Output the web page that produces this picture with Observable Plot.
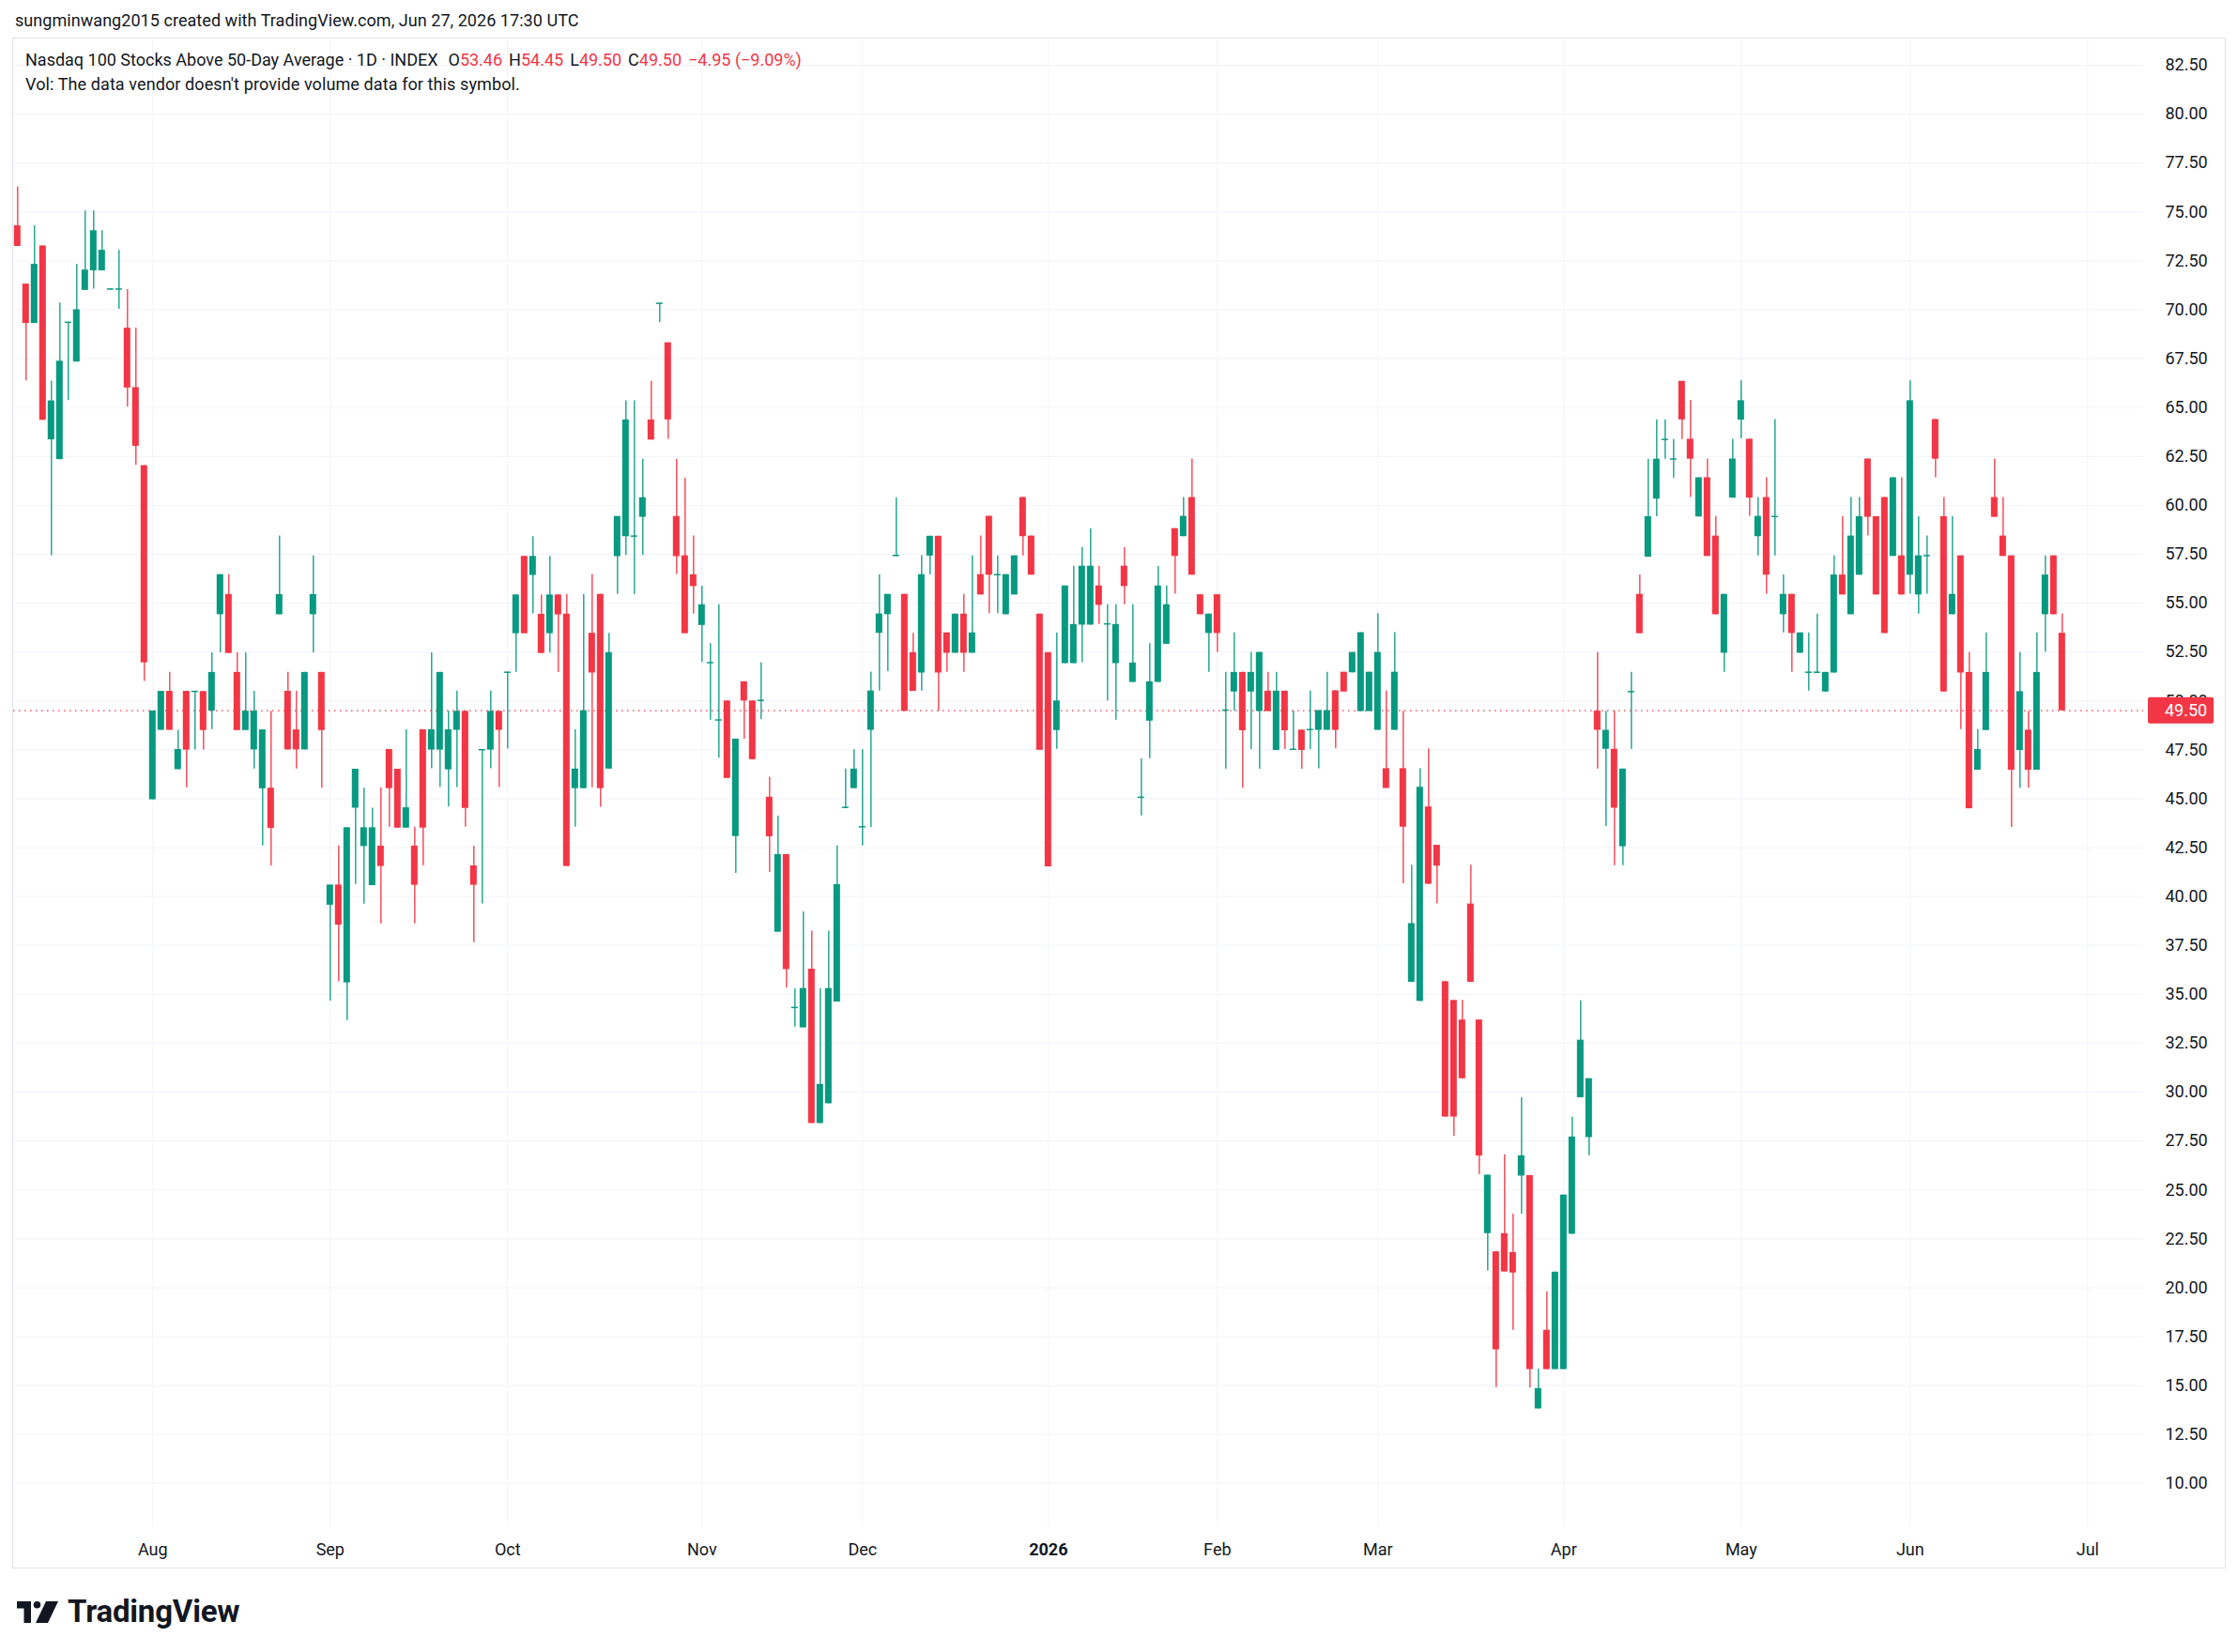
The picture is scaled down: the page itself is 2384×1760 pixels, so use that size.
<!DOCTYPE html>
<html>
<head>
<meta charset="utf-8">
<script src="https://cdn.jsdelivr.net/npm/d3@7"></script>
<script src="https://cdn.jsdelivr.net/npm/@observablehq/plot@0.6"></script>
<style>
html, body { margin: 0; padding: 0; background: #ffffff; }
body { width: 2384px; height: 1760px; position: relative; overflow: hidden;
       font-family: Roboto, "Noto Sans", sans-serif; color: #131722; }
#title { position: absolute; left: 16px; top: 9px; font-size: 18px; line-height: 26px; white-space: nowrap; letter-spacing: 0.05px; }
#pane { position: absolute; left: 13px; top: 40px; width: 2356px; height: 1629px; border: 1px solid #e0e3eb; }
#pane svg { display: block; }
.leg { position: absolute; left: 27px; font-size: 18px; line-height: 26px; white-space: nowrap; }
#leg1 { top: 51px; letter-spacing: 0px; }
#leg2 { top: 77px; letter-spacing: 0.1px; }
.red { color: #f23645; }
.gap2 { margin-left: 11px; }
.gap1 { margin-left: 7px; }
#logo { position: absolute; left: 18px; top: 1698px; display: flex; align-items: center; gap: 10px; }
#logo span { font-size: 33px; font-weight: 700; letter-spacing: -0.2px; color: #131722; line-height: 38px; }
</style>
</head>
<body>
<div id="title">sungminwang2015 created with TradingView.com, Jun 27, 2026 17:30 UTC</div>
<div id="pane"></div>
<div id="leg1" class="leg">Nasdaq 100 Stocks Above 50-Day Average · 1D · INDEX<span class="gap2">O</span><span class="red">53.46</span><span class="gap1">H</span><span class="red">54.45</span><span class="gap1">L</span><span class="red">49.50</span><span class="gap1">C</span><span class="red">49.50</span><span class="red gap1">−4.95 (−9.09%)</span></div>
<div id="leg2" class="leg">Vol: The data vendor doesn't provide volume data for this symbol.</div>
<div id="logo">
  <svg width="44" height="23" viewBox="0 0 44 23">
    <path d="M0 0 H15 V23 H7.5 V7.5 H0 Z" fill="#131722"/>
    <circle cx="21.5" cy="3.8" r="3.8" fill="#131722"/>
    <polygon points="31,0 44,0 33,23 20,23" fill="#131722"/>
  </svg>
  <span>TradingView</span>
</div>
<script>
// ---- data (daily candles, Jul 10 2025 – Jun 26 2026) ----
const opens = [
74.29,71.31,69.30,73.26,63.35,62.34,69.30,67.33,70.99,71.99,
71.99,71.00,71.00,69.06,66.02,62.03,44.95,48.50,50.49,46.49,
50.49,50.43,50.48,49.48,54.41,55.44,51.46,48.49,47.50,45.51,
45.54,54.41,50.49,48.52,47.50,54.41,51.46,39.56,40.59,35.59,
44.52,42.56,40.56,42.58,47.52,46.51,43.50,42.58,48.53,47.49,
47.49,46.48,48.50,49.47,41.57,47.45,47.49,49.47,51.41,53.44,
57.39,56.42,54.43,53.44,55.42,54.44,45.52,45.52,53.46,55.45,
46.52,57.38,58.40,58.37,59.39,64.37,70.27,68.31,59.43,57.42,
56.45,53.86,51.90,48.97,50.00,43.07,50.98,50.00,49.97,45.08,
38.18,42.15,34.27,33.29,36.29,28.40,29.41,34.61,44.50,45.52,
43.51,48.50,53.46,54.41,57.38,55.45,52.47,51.43,57.41,58.42,
53.48,52.44,54.44,52.44,56.46,59.44,56.40,54.41,55.42,60.40,
58.43,54.44,52.47,48.49,51.91,51.91,53.88,53.88,55.88,53.88,
51.91,56.89,50.95,45.02,48.97,50.95,52.90,58.81,58.40,60.40,
55.43,53.45,55.43,49.47,50.46,51.46,50.46,49.46,50.50,47.47,
50.50,47.47,48.51,48.48,48.50,48.50,50.52,51.47,51.44,49.46,
49.46,48.50,46.54,48.50,46.54,35.62,34.64,44.58,42.62,35.65,
34.69,33.69,39.62,33.69,22.77,21.84,22.77,21.80,25.71,25.74,
13.81,17.83,15.82,15.82,22.74,29.72,27.68,49.48,47.53,47.53,
42.55,50.42,55.45,57.35,60.32,63.31,62.31,66.34,63.38,59.41,
61.41,58.43,52.44,60.37,64.36,63.38,58.40,60.40,59.37,54.41,
55.45,52.44,51.41,51.41,50.46,51.43,56.44,54.41,56.43,62.37,
59.42,60.40,57.39,57.42,56.43,55.42,57.37,64.39,59.42,54.41,
57.42,51.46,46.46,48.49,60.40,58.43,57.42,47.47,48.51,46.46,
54.41,57.42,53.46];
const highs = [
76.28,71.31,74.29,73.26,66.35,70.35,69.36,72.32,75.05,75.05,
74.04,71.05,73.04,71.03,69.06,62.03,49.49,50.49,51.46,48.50,
50.49,50.49,50.48,52.46,56.46,56.46,52.46,52.46,50.49,48.52,
49.48,58.43,51.46,50.49,51.46,57.41,51.46,40.59,42.59,43.52,
46.51,45.54,44.52,45.55,47.52,46.51,48.53,43.55,48.53,52.46,
51.46,49.47,50.50,49.47,42.58,47.50,50.50,49.47,51.46,55.42,
57.39,58.40,55.42,57.39,55.42,55.45,48.53,55.45,56.47,55.45,
53.46,59.43,65.35,65.35,62.36,66.34,70.32,68.31,62.36,61.39,
58.44,55.87,52.93,54.92,50.00,48.05,50.98,50.00,51.94,46.10,
44.11,42.15,35.30,39.22,38.23,35.30,38.23,42.59,46.52,47.51,
47.51,51.48,56.46,55.45,60.38,55.45,53.46,57.43,58.42,58.42,
53.48,54.44,55.45,57.42,58.43,59.44,57.42,56.46,57.42,60.40,
58.43,54.44,52.47,53.48,55.88,56.89,57.85,58.81,56.89,54.92,
54.92,57.85,54.92,47.04,52.93,56.88,55.88,58.81,60.40,62.37,
55.43,54.44,55.43,51.46,53.48,51.46,52.48,52.48,51.46,51.46,
50.50,49.49,48.51,50.50,49.51,51.47,50.52,51.47,52.48,53.49,
51.47,54.47,50.52,53.49,49.48,41.61,46.54,47.55,42.62,35.65,
34.69,34.69,41.61,33.69,25.76,21.84,26.80,23.77,29.72,25.74,
15.85,19.80,20.80,24.74,28.72,34.67,30.69,52.47,49.48,49.48,
46.52,51.47,56.45,62.36,64.37,64.37,63.36,66.34,65.37,61.41,
62.37,59.42,55.45,63.38,66.36,63.38,60.40,61.41,64.38,56.44,
55.45,53.48,53.48,54.44,51.46,57.42,59.42,60.40,60.40,62.37,
59.42,60.40,61.41,61.41,66.36,59.42,58.43,64.39,60.40,59.42,
57.42,52.47,48.54,53.48,62.37,60.40,57.42,52.47,49.47,53.48,
57.42,57.42,54.45];
const lows = [
73.24,66.37,69.30,64.35,57.43,62.34,65.36,67.33,70.99,71.05,
71.99,71.00,70.02,65.03,62.05,51.00,44.95,48.50,48.50,46.49,
45.56,47.50,47.50,48.54,52.46,52.43,48.49,48.49,46.52,42.59,
41.57,54.41,47.50,46.52,47.50,52.46,45.54,34.66,35.64,33.66,
40.62,39.61,40.56,38.61,43.55,43.50,43.50,38.61,41.58,46.53,
45.57,44.58,45.57,43.55,37.65,39.62,46.53,45.57,47.54,51.47,
53.44,54.45,52.43,52.46,51.47,41.54,43.55,45.52,45.56,44.57,
46.52,55.45,57.44,55.45,57.44,63.34,69.35,63.38,56.47,53.44,
54.44,51.97,49.02,47.07,46.04,41.18,48.05,47.00,49.05,41.23,
38.18,35.32,33.33,33.29,28.40,28.40,29.41,34.61,44.50,45.52,
42.59,43.54,50.51,51.50,57.38,49.47,50.49,50.51,56.46,49.47,
51.46,52.44,51.46,52.44,55.42,54.46,54.46,54.41,55.42,57.42,
56.43,47.48,41.52,47.53,51.91,51.91,51.96,53.88,53.91,50.00,
49.02,54.92,50.95,44.12,47.05,50.95,52.90,55.46,58.40,56.43,
54.41,51.47,52.48,46.51,49.49,45.54,47.52,46.51,49.46,47.47,
47.52,47.47,46.51,47.52,46.54,48.50,47.55,50.46,51.44,49.46,
49.46,48.50,45.53,48.50,40.66,35.62,34.64,40.63,39.62,28.73,
27.75,30.69,35.62,25.79,20.86,14.90,20.81,17.83,23.77,14.89,
13.81,15.82,15.82,15.82,22.74,29.72,26.75,46.52,43.59,41.58,
41.58,47.53,53.44,57.35,59.42,62.36,61.39,63.36,60.40,59.41,
57.39,54.41,51.47,60.37,63.40,59.44,57.42,55.46,57.42,53.48,
51.47,52.44,50.51,51.41,50.46,51.43,55.42,54.41,56.43,58.43,
55.42,53.45,57.39,55.42,55.46,54.44,55.46,61.41,50.46,54.41,
48.54,44.49,46.46,48.49,59.39,57.39,43.54,45.54,45.54,46.46,
52.50,54.41,49.50];
const closes = [
73.24,69.30,72.32,64.35,65.34,67.37,69.36,70.00,72.03,74.04,
73.04,71.05,71.05,66.00,63.02,51.95,49.49,50.49,48.50,47.52,
47.49,50.49,48.49,51.46,56.46,52.43,48.49,49.48,49.48,48.52,
43.49,55.44,47.50,47.50,51.46,55.44,48.49,40.59,38.54,43.52,
46.51,43.52,43.52,41.54,45.52,43.50,44.54,40.58,43.50,48.53,
51.46,48.53,49.47,44.51,40.58,47.50,49.47,48.50,51.46,55.42,
53.44,57.39,52.43,55.42,54.40,41.54,46.52,49.50,51.43,45.52,
52.47,59.43,64.37,58.42,60.39,63.34,70.32,64.37,57.38,53.44,
55.85,54.92,51.95,49.02,46.04,48.05,50.00,47.00,50.02,43.06,
42.15,36.27,34.32,35.30,28.40,30.40,35.30,40.61,44.55,46.52,
43.56,50.51,54.45,55.45,57.43,49.47,50.49,56.46,58.42,51.43,
52.44,54.44,52.44,53.48,55.42,56.43,56.45,56.46,57.42,58.40,
56.43,47.48,41.52,50.00,55.88,53.91,56.89,56.89,54.89,53.93,
53.91,55.85,51.94,45.07,50.98,55.88,54.92,57.39,59.44,56.43,
54.41,54.44,53.45,49.52,51.46,48.48,51.46,52.48,49.46,50.50,
48.48,47.52,47.47,48.53,49.51,49.51,48.50,50.46,52.48,53.49,
51.47,52.48,45.53,51.47,43.55,38.62,45.59,40.63,41.56,28.73,
28.73,30.69,35.62,26.74,25.76,16.83,20.81,20.76,26.75,15.82,
14.85,15.82,20.80,24.74,27.71,32.66,30.69,48.50,48.50,44.52,
46.52,50.47,53.44,59.42,62.36,63.36,62.36,64.37,62.36,61.41,
57.39,54.41,55.45,62.37,65.35,60.37,59.44,56.43,59.42,55.45,
53.45,53.48,51.46,51.46,51.46,56.44,55.42,58.43,59.42,59.39,
55.42,53.45,61.41,55.42,65.35,57.42,57.42,62.36,50.46,55.45,
51.43,44.49,47.52,51.46,59.39,57.39,46.46,50.48,46.46,51.46,
56.44,54.41,49.50];

// month labels placed at the first trading day of each month (bar index)
const monthTickIdx = [16, 37, 58, 81, 100, 122, 142, 161, 183, 204, 224, 245];
const monthTickLabels = ["Aug", "Sep", "Oct", "Nov", "Dec", "2026", "Feb", "Mar", "Apr", "May", "Jun", "Jul"];
const priceTicks = [10, 12.5, 15, 17.5, 20, 22.5, 25, 27.5, 30, 32.5, 35, 37.5, 40, 42.5, 45, 47.5,
                    50, 52.5, 55, 57.5, 60, 62.5, 65, 67.5, 70, 72.5, 75, 77.5, 80, 82.5];
const lastClose = closes[closes.length - 1];

// ---- chart ----
const UP = "#089981", DOWN = "#f23645", GRID = "#f0f3fa";
const bars = opens.map((o, i) => ({ i, o, h: highs[i], l: lows[i], c: closes[i], up: closes[i] >= o }));
const months = monthTickIdx.map((x, k) => ({ x, label: monthTickLabels[k], bold: /^\d{4}$/.test(monthTickLabels[k]) }));

function priceLabel(index, scales, values, dims) {
  const y = scales.y(lastClose);
  const xr = dims.width - dims.marginRight;
  const g = d3.create("svg:g");
  g.append("rect").attr("x", xr + 5).attr("y", y - 14).attr("width", 70).attr("height", 28)
    .attr("rx", 2).attr("fill", DOWN);
  g.append("text").attr("x", xr + 23).attr("y", y).attr("dy", "0.36em")
    .attr("text-anchor", "start")
    .attr("fill", "#ffffff").attr("font-size", 18).text(lastClose.toFixed(2));
  return g.node();
}

const chart = Plot.plot({
  width: 2356,
  height: 1629,
  marginLeft: 0,
  marginTop: 0,
  marginRight: 87,
  marginBottom: 43,
  x: { type: "linear", domain: [-0.478, 251.63], axis: null },
  y: { domain: [7.74, 83.843], axis: null },
  style: { fontFamily: "Roboto, 'Noto Sans', sans-serif", fontSize: "18px", color: "#131722", background: "#ffffff" },
  marks: [
    Plot.gridY(priceTicks, { stroke: GRID, strokeOpacity: 1, strokeWidth: 1 }),
    Plot.gridX(monthTickIdx, { stroke: GRID, strokeOpacity: 1, strokeWidth: 1 }),
    Plot.ruleY([lastClose], { stroke: DOWN, strokeDasharray: "1.5,4.5", strokeWidth: 1.2 }),
    Plot.ruleX(bars, { x: "i", y1: "l", y2: "h", stroke: d => d.up ? UP : DOWN, strokeWidth: 1.3 }),
    Plot.rect(bars, {
      x1: d => d.i - 0.39, x2: d => d.i + 0.39,
      y1: "o",
      y2: d => Math.abs(d.c - d.o) < 0.07 ? d.o + (d.up ? 0.07 : -0.07) : d.c,
      fill: d => d.up ? UP : DOWN
    }),
    Plot.axisY(priceTicks, { anchor: "right", tickSize: 0, tickPadding: 23, tickFormat: d => d.toFixed(2), fontSize: 18, fill: "#131722" }),
    Plot.text(months.filter(d => !d.bold), { x: "x", text: "label", frameAnchor: "bottom", dy: 29, fontSize: 18, fill: "#131722" }),
    Plot.text(months.filter(d => d.bold), { x: "x", text: "label", frameAnchor: "bottom", dy: 29, fontSize: 18, fontWeight: "bold", fill: "#131722" }),
    priceLabel
  ]
});
document.getElementById("pane").appendChild(chart);
</script>
</body>
</html>
